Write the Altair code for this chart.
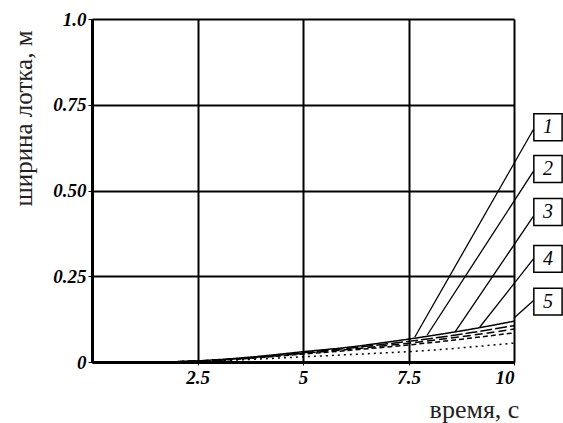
import altair as alt
import pandas as pd

# time points, s
t = [0, 1, 2, 3, 4, 5, 6, 7, 8, 9, 10]
# channel width, m (curves 1..5)
c1 = [0, 0, 0.001, 0.007, 0.017, 0.030, 0.042, 0.058, 0.076, 0.096, 0.119]
c2 = [0, 0, 0.001, 0.006, 0.015, 0.027, 0.039, 0.053, 0.068, 0.086, 0.106]
c3 = [0, 0, 0.001, 0.006, 0.014, 0.025, 0.036, 0.048, 0.062, 0.078, 0.096]
c4 = [0, 0, 0.001, 0.005, 0.013, 0.023, 0.033, 0.044, 0.056, 0.070, 0.085]
c5 = [0, 0, 0.001, 0.004, 0.009, 0.015, 0.021, 0.027, 0.034, 0.044, 0.055]
curve_names = ["1", "2", "3", "4", "5"]
dashes = [[1, 0], [12, 3], [8, 4], [5, 3], [2, 4]]

# annotation boxes (data coordinates) and leader lines
box_x0 = [10.47] * 5
box_x1 = [11.14] * 5
box_y0 = [0.645, 0.523, 0.398, 0.262, 0.137]
box_y1 = [0.724, 0.602, 0.477, 0.340, 0.215]
lead_x0 = [10.47] * 5
lead_y0 = [0.680, 0.558, 0.427, 0.302, 0.180]
lead_x1 = [7.65, 7.94, 8.60, 9.19, 10.0]
lead_y1 = [0.073, 0.078, 0.087, 0.102, 0.128]

x_ticks = [2.5, 5, 7.5, 10]
y_ticks = [0, 0.25, 0.5, 0.75, 1.0]

rows = []
for name, vals in zip(curve_names, [c1, c2, c3, c4, c5]):
    for ti, v in zip(t, vals):
        rows.append({"t": ti, "w": v, "curve": name})
df = pd.DataFrame(rows)

boxes = pd.DataFrame({
    "x0": box_x0, "x1": box_x1, "y0": box_y0, "y1": box_y1,
    "xc": [(a + b) / 2 for a, b in zip(box_x0, box_x1)],
    "yc": [(a + b) / 2 for a, b in zip(box_y0, box_y1)],
    "label": curve_names,
})
leads = pd.DataFrame({"x0": lead_x0, "y0": lead_y0, "x1": lead_x1, "y1": lead_y1})

FONT = "Liberation Serif"
xs = alt.Scale(domain=[0, 10], nice=False, zero=False)
ys = alt.Scale(domain=[0, 1], nice=False)

lines = alt.Chart(df).mark_line(color="black", strokeWidth=1.5, interpolate="monotone").encode(
    x=alt.X("t:Q", scale=xs, axis=alt.Axis(
        values=x_ticks, title="время, с", grid=True, gridColor="black", gridWidth=2,
        labelExpr="format(datum.value, '.1~f')",
        domainColor="black", domainWidth=3, tickColor="black", tickSize=3,
        labelFont=FONT, labelFontStyle="italic", labelFontWeight="bold", labelFontSize=19,
        labelColor="black", labelPadding=3,
        titleFont=FONT, titleFontSize=26, titleFontWeight="normal", titleColor="#222",
        titleX=382, titleY=55, titleAlign="center", titleBaseline="alphabetic")),
    y=alt.Y("w:Q", scale=ys, axis=alt.Axis(
        values=y_ticks, title="ширина лотка, м", grid=True, gridColor="black", gridWidth=2,
        domainColor="black", domainWidth=3, tickColor="black", tickSize=4,
        labelExpr="datum.value == 0 ? '0' : (datum.value == 1 ? '1.0' : format(datum.value, '.2f'))",
        labelFont=FONT, labelFontStyle="italic", labelFontWeight="bold", labelFontSize=19,
        labelColor="black", labelPadding=2,
        titleFont=FONT, titleFontSize=25, titleFontWeight="normal", titleColor="#222",
        titleX=-69, titleY=99, titleAngle=270, titleAlign="center", titleBaseline="middle")),
    strokeDash=alt.StrokeDash("curve:N", scale=alt.Scale(domain=curve_names, range=dashes), legend=None),
    detail="curve:N",
)

leaders = alt.Chart(leads).mark_rule(color="black", strokeWidth=1.3).encode(
    x=alt.X("x0:Q", scale=xs), y=alt.Y("y0:Q", scale=ys),
    x2="x1:Q", y2="y1:Q",
)

rects = alt.Chart(boxes).mark_rect(fill="white", stroke="black", strokeWidth=1.5).encode(
    x=alt.X("x0:Q", scale=xs), x2="x1:Q",
    y=alt.Y("y0:Q", scale=ys), y2="y1:Q",
)

texts = alt.Chart(boxes).mark_text(font=FONT, fontStyle="italic", fontSize=20, color="black",
                                   baseline="middle", align="center").encode(
    x=alt.X("xc:Q", scale=xs), y=alt.Y("yc:Q", scale=ys), text="label:N",
)

chart = alt.layer(lines, leaders, rects, texts).properties(
    width=422, height=343,
    autosize=alt.AutoSizeParams(type="none"),
    padding={"left": 92, "top": 19, "right": 49, "bottom": 61},
).configure_view(stroke="black", strokeWidth=2).configure(background="white")

chart.save("out.html", embed_options={"renderer": "svg", "actions": False})
